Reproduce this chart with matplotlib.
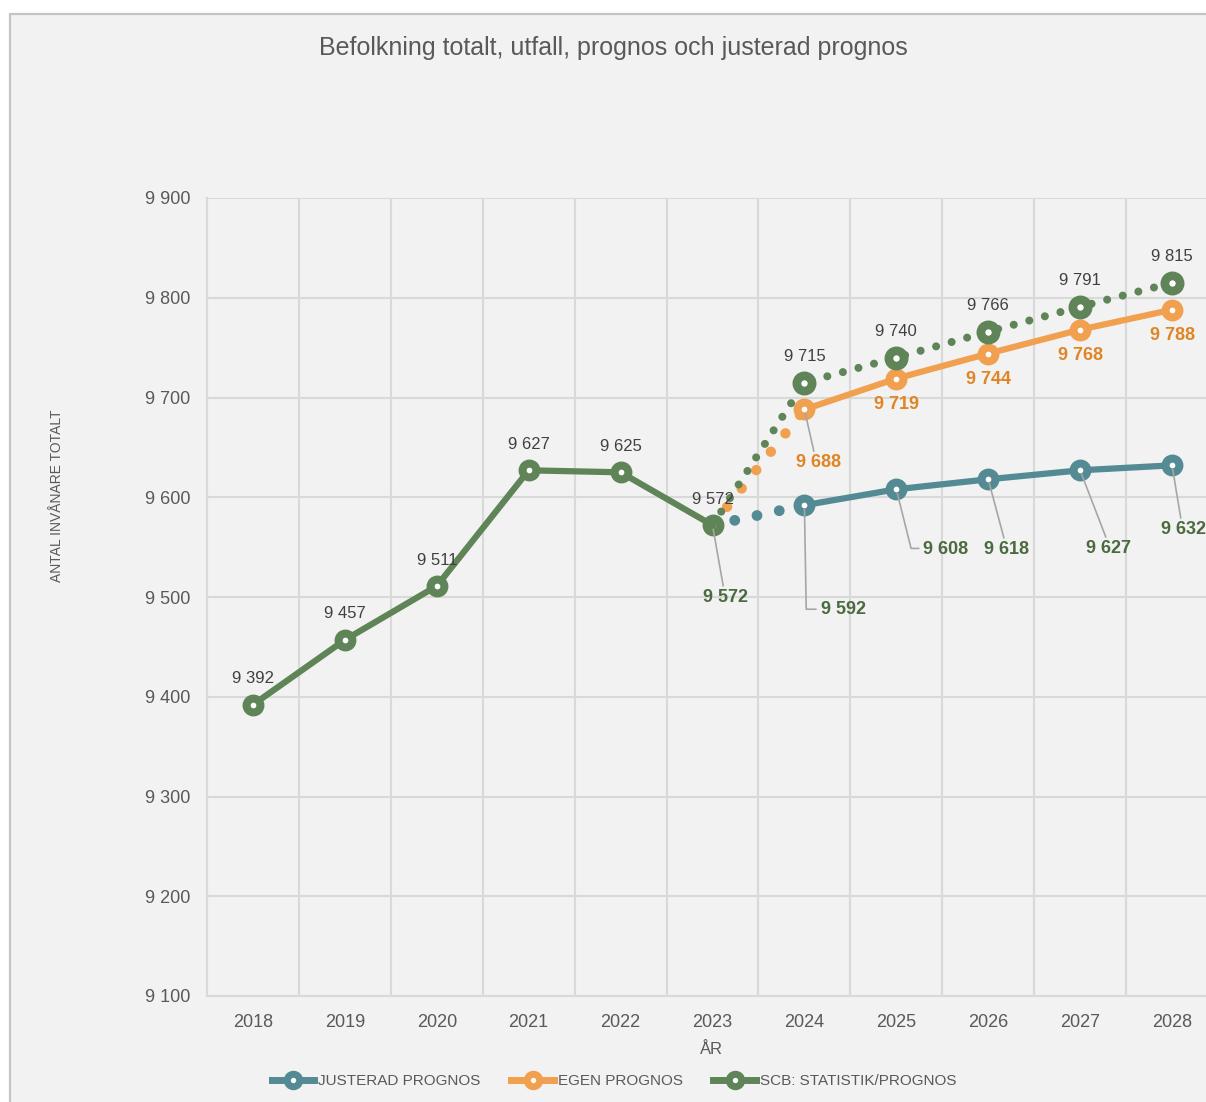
import numpy as np
import matplotlib
matplotlib.use("Agg")
import matplotlib.pyplot as plt
from matplotlib.patches import Rectangle
from matplotlib.lines import Line2D

# ---------------- data ----------------
years = [2018, 2019, 2020, 2021, 2022, 2023, 2024, 2025, 2026, 2027, 2028]
scb = [9392, 9457, 9511, 9627, 9625, 9572, 9715, 9740, 9766, 9791, 9815]   # SCB: statistik/prognos
egen = [9572, 9688, 9719, 9744, 9768, 9788]                                # from 2023
justerad = [9572, 9592, 9608, 9618, 9627, 9632]                            # from 2023
y_ticks = [9100, 9200, 9300, 9400, 9500, 9600, 9700, 9800, 9900]
series_names = ["JUSTERAD PROGNOS", "EGEN PROGNOS", "SCB: STATISTIK/PROGNOS"]
title = "Befolkning totalt, utfall, prognos och justerad prognos"
ylabel = "ANTAL INVÅNARE TOTALT"
xlabel = "ÅR"

# ---------------- style ----------------
W, H = 1206, 1102
C_TEAL = "#548a93"
C_ORANGE = "#f0a04e"
C_GREEN = "#5f8457"
C_ORANGE_TXT = "#e08424"
C_GREEN_TXT = "#4b6a3f"
C_LBL = "#404040"
C_AX = "#595959"
C_GRID = "#d9d9d9"
NARROW = ["Liberation Sans Narrow", "Liberation Sans", "DejaVu Sans"]
SANS = ["Liberation Sans", "DejaVu Sans"]

def fmt(v):
    return f"{v:,}".replace(",", " ")

fig = plt.figure(figsize=(W / 100, H / 100), dpi=100)
fig.patch.set_facecolor("white")
fig.patches.append(Rectangle((10 / W, -0.1), 1.2, 1.1 - 14 / H, transform=fig.transFigure,
                             facecolor="#f2f2f2", edgecolor="#c4c4c4", lw=1.6, zorder=-10))

ax = fig.add_axes([207 / W, (H - 996) / H, (1218 - 207) / W, (996 - 198) / H])
ax.set_zorder(1)
ax.set_facecolor("#f2f2f2")
x = np.arange(len(years))
k0 = years.index(2023)
xf = x[k0:]

ax.set_xlim(-0.5, len(years) - 0.5)
ax.set_ylim(y_ticks[0], y_ticks[-1])
ax.set_yticks(y_ticks)
ax.set_yticklabels([fmt(v) for v in y_ticks], fontfamily=SANS, fontsize=13, color=C_AX)
ax.set_xticks(x)
ax.set_xticklabels([str(y) for y in years], fontfamily=NARROW, fontsize=13, color=C_AX)
ax.set_xticks(np.arange(-0.5, len(years) + 0.5, 1), minor=True)
ax.tick_params(axis="both", which="both", length=0)
ax.tick_params(axis="y", pad=12)
ax.tick_params(axis="x", pad=13)
ax.grid(True, axis="y", which="major", color=C_GRID, lw=1.5)
ax.grid(True, axis="x", which="minor", color=C_GRID, lw=1.5)
ax.grid(False, axis="x", which="major")
ax.set_axisbelow(True)
for s in ["top", "right"]:
    ax.spines[s].set_visible(False)
for s in ["left", "bottom"]:
    ax.spines[s].set_color(C_GRID)
    ax.spines[s].set_linewidth(1.5)

LW = 4.5
MS = 10
MEW = 5.75

# justerad prognos
ax.plot(xf[:2], justerad[:2], color=C_TEAL, lw=7.8, ls=(0, (0.001, 2.1)),
        dash_capstyle="round", zorder=3)
ax.plot(xf[1:], justerad[1:], color=C_TEAL, lw=LW, marker="o", ms=MS, mfc="white",
        mec=C_TEAL, mew=MEW, zorder=3, solid_capstyle="round")
# egen prognos
ax.plot(xf[:2], egen[:2], color=C_ORANGE, lw=7.5, ls=(0, (0.001, 2.25)),
        dash_capstyle="round", zorder=4)
ax.plot(xf[1:], egen[1:], color=C_ORANGE, lw=LW, marker="o", ms=MS, mfc="white",
        mec=C_ORANGE, mew=MEW, zorder=4, solid_capstyle="round")
# SCB
ax.plot(x[:k0 + 1], scb[:k0 + 1], color=C_GREEN, lw=LW, marker="o", ms=MS, mfc="white",
        mec=C_GREEN, mew=MEW, zorder=5, solid_capstyle="round")
ax.plot(xf, scb[k0:], color=C_GREEN, lw=5.8, ls=(0, (0.001, 2.0)),
        dash_capstyle="round", zorder=5)
ax.plot(x[k0 + 1:], scb[k0 + 1:], ls="none", marker="o", ms=MS + 1, mfc="white",
        mec=C_GREEN, mew=MEW + 0.5, zorder=6)

# ---------------- data labels ----------------
for xi, v in zip(x, scb):
    ax.annotate(fmt(v), (xi, v), xytext=(0, 26), textcoords="offset pixels",
                ha="center", va="center", fontsize=12, fontfamily=SANS, color=C_LBL, zorder=8)

for xi, v in zip(xf[2:], egen[2:]):
    ax.annotate(fmt(v), (xi, v), xytext=(0, -26), textcoords="offset pixels",
                ha="center", va="center", fontsize=13, fontweight="bold", fontfamily=SANS,
                color=C_ORANGE_TXT, zorder=8)

LEAD = dict(arrowstyle="-", color="#a6a6a6", lw=1.2, shrinkA=0, shrinkB=3)
# egen 2024 label with leader
ax.annotate(fmt(egen[1]), (xf[1], egen[1]), xytext=(14, -53), textcoords="offset pixels",
            ha="center", va="center", fontsize=13, fontweight="bold", fontfamily=SANS,
            color=C_ORANGE_TXT, zorder=8,
            arrowprops=dict(LEAD, relpos=(0.4, 1.15)))

# justerad labels (leader lines)
jus_offsets = [(13, -72), (17, -104), (27, -60), (18, -70), (28, -78), (11, -64)]
jus_ha = ["center", "left", "left", "center", "center", "center"]
for i, (xi, v) in enumerate(zip(xf, justerad)):
    dx, dy = jus_offsets[i]
    if i == 1:
        ap = dict(LEAD, relpos=(-0.12, 0.5), connectionstyle="angle,angleA=0,angleB=-89")
    elif i == 2:
        ap = dict(LEAD, relpos=(-0.1, 0.55), connectionstyle="angle,angleA=0,angleB=-76")
    else:
        ap = dict(LEAD, relpos=(0.45, 1.15))
    ax.annotate(fmt(v), (xi, v), xytext=(dx, dy), textcoords="offset pixels",
                ha=jus_ha[i], va="center", fontsize=13, fontweight="bold", fontfamily=SANS,
                color=C_GREEN_TXT, zorder=8, arrowprops=ap)

# ---------------- texts ----------------
fig.text(613 / W, 1 - 48 / H, title, ha="center", va="center", fontsize=18,
         fontfamily=NARROW, color=C_AX)
fig.text(57 / W, 1 - 496 / H, ylabel, ha="center", va="center", rotation=90,
         fontsize=10, fontfamily=NARROW, color=C_AX)
fig.text(711 / W, 1 - 1050 / H, xlabel, ha="center", va="center",
         fontsize=12, fontfamily=NARROW, color=C_AX)

handles = [Line2D([], [], color=c, lw=5, marker="o", ms=9, mfc="white", mec=c, mew=5)
           for c in (C_TEAL, C_ORANGE, C_GREEN)]
leg = fig.legend(handles, series_names, loc="center", bbox_to_anchor=(614 / W, 1 - 1081 / H),
                 ncol=3, frameon=False, handlelength=2.8, handletextpad=0.25,
                 columnspacing=2.0, prop={"family": NARROW, "size": 11})
for t in leg.get_texts():
    t.set_color(C_AX)

fig.savefig("out.png", dpi=100, facecolor=fig.get_facecolor())
